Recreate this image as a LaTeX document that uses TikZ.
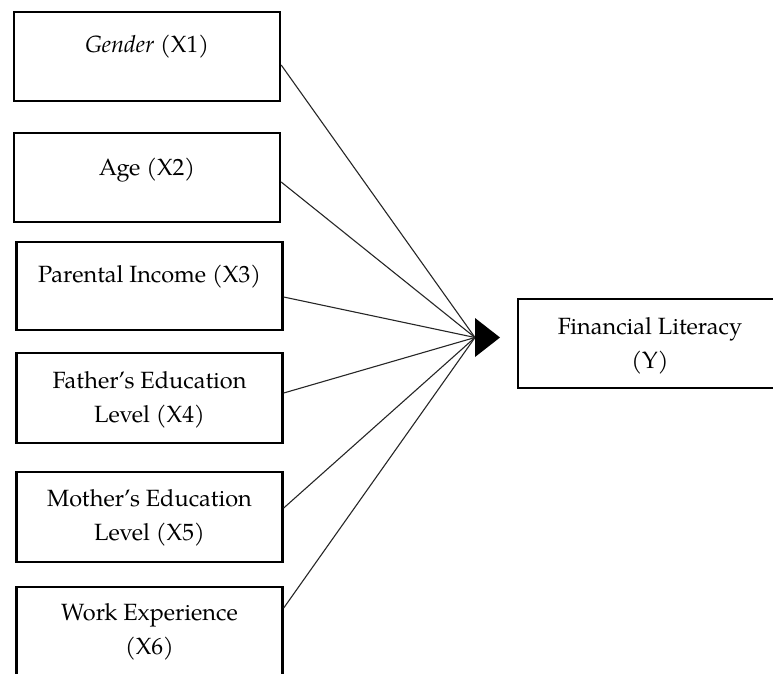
\documentclass[tikz,border=0pt]{standalone}
\usepackage{fontspec}
\setmainfont{TeX Gyre Pagella}
\usetikzlibrary{calc}
\begin{document}
\begin{tikzpicture}[x=1pt,y=-1pt,
  varbox/.style={draw=black, line width=2.4pt, rectangle, inner sep=0pt,
                 minimum width=266pt, minimum height=89pt},
  lbl/.style={align=center, inner sep=0pt, font=\fontsize{23.5}{34}\selectfont},
  link/.style={draw=black!85, line width=1.1pt}]
\useasboundingbox (0,0) rectangle (773,673);

% independent variables
\node[varbox] (x1) at (147,56.5) {};
\node[varbox] (x2) at (147,177.5) {};
\node[varbox, minimum height=88pt] (x3) at (149.5,286) {};
\node[varbox, minimum height=90pt] (x4) at (149.5,398) {};
\node[varbox, minimum height=90pt] (x5) at (149.5,517) {};
\node[varbox, minimum height=90pt] (x6) at (149.5,632) {};

% dependent variable
\node[varbox, minimum width=264pt] (y) at (650,343.5) {};

% labels (base anchor = baseline of the last line)
\node[lbl, anchor=base] (t1) at (147,52) {\textit{Gender} (X1)};
\node[lbl, anchor=base] (t2) at (147,175) {Age (X2)};
\node[lbl, anchor=base] (t3) at (149.5,282) {Parental Income (X3)};
\node[lbl, anchor=base] (t4) at (149.5,422) {Father’s Education\\Level (X4)};
\node[lbl, anchor=base] (t5) at (149.5,540) {Mother’s Education\\Level (X5)};
\node[lbl, anchor=base] (t6) at (149.5,654) {Work Experience\\(X6)};
\node[lbl, anchor=base] (ty) at (650,368) {Financial Literacy\\(Y)};

% converging paths and the common arrowhead
\coordinate (hub) at (475,337.5);
\draw[link] ($(x1.east)+(0,8.5)$) -- (hub);
\draw[link] ($(x2.east)+(0,4.5)$) -- (hub);
\draw[link] ($(x3.east)+(0,11)$) -- (hub);
\draw[link] ($(x4.east)+(0,-5)$) -- (hub);
\draw[link] ($(x5.east)+(0,-9)$) -- (hub);
\draw[link] ($(x6.east)+(0,-24)$) -- (hub);
\fill[black] (hub) ++(0,-19.5) -- ++(25,19.5) -- ++(-25,19.5) -- cycle;
\end{tikzpicture}
\end{document}
